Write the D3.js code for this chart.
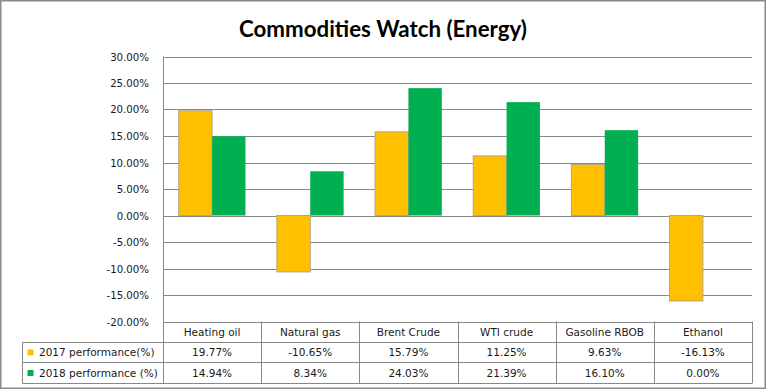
<!DOCTYPE html>
<html>
<head>
<meta charset="utf-8">
<script src="https://cdn.jsdelivr.net/npm/d3@7"></script>
<style>
  html, body { margin: 0; padding: 0; background: #fff; }
  svg { display: block; }
</style>
</head>
<body>
<svg id="chart" width="767" height="390"></svg>
<script>
const title = "Commodities Watch (Energy)";
const categories = ["Heating oil", "Natural gas", "Brent Crude", "WTI crude", "Gasoline RBOB", "Ethanol"];
const seriesNames = ["2017 performance(%)", "2018 performance (%)"];
const values2017 = [19.77, -10.65, 15.79, 11.25, 9.63, -16.13];
const values2018 = [14.94, 8.34, 24.03, 21.39, 16.10, 0.00];
const yTicks = [30, 25, 20, 15, 10, 5, 0, -5, -10, -15, -20];
const colors = ["#FFC000", "#00B050"];

(function () {
const series = [values2017, values2018];
const svg = d3.select("#chart");
const W = 767, H = 390;
const pLeft = 163, pRight = 752, pTop = 56.5, pBottom = 321.5;
const tableLeft = 22.5, row1 = 342.5, row2 = 362.5, row3 = 383.5;
const lineColor = "#888888";
const textColor = "#1a1a1a";

// outer border
svg.append("rect").attr("x", 0.75).attr("y", 0.75).attr("width", W - 2.5).attr("height", H - 2.5)
  .attr("fill", "#fff").attr("stroke", "#8a8a8a").attr("stroke-width", 1.5);

// title
svg.append("text").attr("x", 383).attr("y", 37).attr("text-anchor", "middle")
  .attr("font-family", "Lato, 'Open Sans', sans-serif").attr("font-weight", "bold")
  .attr("font-size", 22).attr("fill", "#000")
  .attr("textLength", 288).attr("lengthAdjust", "spacingAndGlyphs")
  .text(title);

const y = d3.scaleLinear().domain([-20, 30]).range([pBottom, pTop]);
const x0 = d3.scaleBand().domain(categories).range([pLeft, pRight]).padding(0);
const groupW = x0.bandwidth() * 0.68;
const x1 = d3.scaleBand().domain([0, 1]).range([0, groupW]).padding(0);

// gridlines
svg.append("g").selectAll("line").data(yTicks).join("line")
  .attr("x1", pLeft).attr("x2", pRight)
  .attr("y1", d => Math.round(y(d)) + 0.5).attr("y2", d => Math.round(y(d)) + 0.5)
  .attr("stroke", lineColor).attr("stroke-width", 1);

// y axis labels
const fmt = d => d.toFixed(2) + "%";
svg.append("g").selectAll("text").data(yTicks).join("text")
  .attr("x", 149).attr("y", d => Math.round(y(d)) + 0.5).attr("dy", "0.35em")
  .attr("text-anchor", "end").attr("font-family", "'DejaVu Sans', Verdana, sans-serif")
  .attr("font-size", 10.2).attr("fill", textColor).text(fmt);

// bars
const bars = svg.append("g");
series.forEach((vals, si) => {
  bars.selectAll(".s" + si).data(vals.map((v, i) => ({ v, c: categories[i] }))).join("rect")
    .attr("class", "s" + si)
    .attr("x", d => x0(d.c) + (x0.bandwidth() - groupW) / 2 + x1(si))
    .attr("width", x1.bandwidth())
    .attr("y", d => y(Math.max(0, d.v)))
    .attr("height", d => Math.abs(y(d.v) - y(0)))
    .attr("fill", colors[si])
    .attr("stroke", si === 0 ? "#b4a884" : "none")
    .attr("stroke-width", 1);
});

// axis line (vertical) through table
svg.append("line").attr("x1", pLeft + 0.5).attr("x2", pLeft + 0.5).attr("y1", pTop).attr("y2", row3)
  .attr("stroke", lineColor);

// data table
const tbl = svg.append("g");
[row1, row2, row3].forEach(yy => {
  tbl.append("line").attr("x1", tableLeft).attr("x2", pRight).attr("y1", yy).attr("y2", yy).attr("stroke", lineColor);
});
tbl.append("line").attr("x1", tableLeft).attr("x2", tableLeft).attr("y1", row1).attr("y2", row3).attr("stroke", lineColor);
categories.forEach((c, i) => {
  const xr = Math.round(x0(c) + x0.bandwidth()) + 0.5;
  tbl.append("line").attr("x1", xr).attr("x2", xr).attr("y1", pBottom).attr("y2", row3).attr("stroke", lineColor);
});
const tf = "'DejaVu Sans', Verdana, sans-serif";
tbl.selectAll(".hdr").data(categories).join("text").attr("class", "hdr")
  .attr("x", d => x0(d) + x0.bandwidth() / 2).attr("y", (pBottom + row1) / 2).attr("dy", "0.35em")
  .attr("text-anchor", "middle").attr("font-family", tf).attr("font-size", 10.5).attr("fill", textColor)
  .text(d => d);
const rowsY = [(row1 + row2) / 2, (row2 + row3) / 2];
series.forEach((vals, si) => {
  tbl.selectAll(".v" + si).data(vals.map((v, i) => ({ v, c: categories[i] }))).join("text").attr("class", "v" + si)
    .attr("x", d => x0(d.c) + x0.bandwidth() / 2).attr("y", rowsY[si]).attr("dy", "0.35em")
    .attr("text-anchor", "middle").attr("font-family", tf).attr("font-size", 10.5).attr("fill", textColor)
    .text(d => fmt(d.v));
  tbl.append("rect").attr("x", 27.5).attr("y", rowsY[si] - 3).attr("width", 6).attr("height", 6)
    .attr("fill", colors[si]);
  tbl.append("text").attr("x", 39).attr("y", rowsY[si]).attr("dy", "0.35em")
    .attr("font-family", tf).attr("font-size", 10.5).attr("fill", textColor).text(seriesNames[si]);
});
})();
</script>
</body>
</html>
